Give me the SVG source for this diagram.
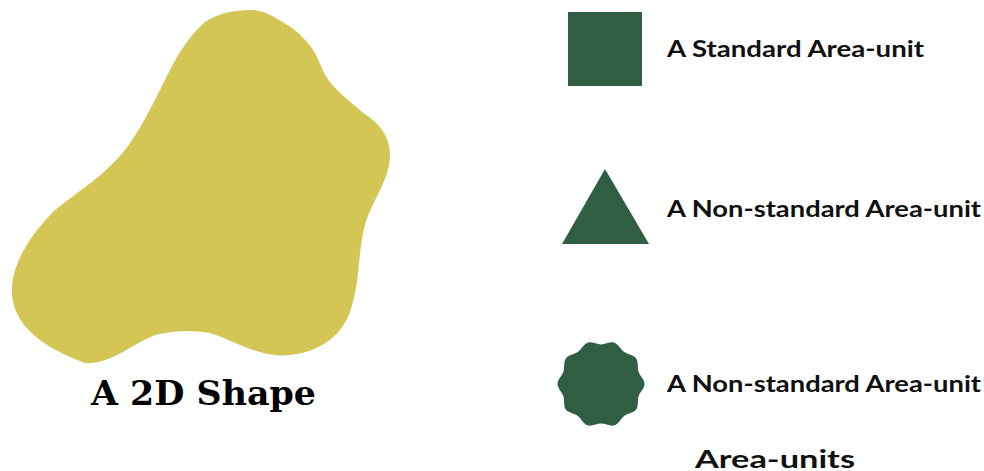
<svg xmlns="http://www.w3.org/2000/svg" width="984" height="471" viewBox="0 0 984 471">
<style>
.unit{fill:#2F5E43}
.lbl{font-family:Lato,"Open Sans",sans-serif;font-weight:bold;font-size:22px;fill:#111}
.title{font-family:"DejaVu Serif","Liberation Serif",serif;font-weight:bold;font-size:33px;fill:#000}
</style>
<rect width="984" height="471" fill="#fff"/>
<g id="shape2d">
<path fill="#D3C654" d="M 250 10 C 230 10 215 15 205 22 C 185 40 175 60 165 80 C 150 110 140 130 125 150 C 105 175 80 190 55 210 C 25 240 10 270 12 295 C 15 330 50 350 85 363 C 110 365 130 345 155 335 C 175 330 195 330 210 333 C 240 343 260 358 290 355 C 320 352 345 335 352 305 C 360 280 358 250 365 225 C 372 200 390 180 390 155 C 390 135 378 122 362 112 C 355 105 340 95 330 82 C 320 70 320 55 305 40 C 295 28 280 20 268 14 C 262 11 256 10 250 10 Z"/>
<text class="title" x="91" y="405" textLength="225" lengthAdjust="spacingAndGlyphs">A 2D Shape</text>
</g>
<g id="standard">
<rect class="unit" x="568" y="12" width="74" height="74"/>
<text class="lbl" x="667" y="57" textLength="257" lengthAdjust="spacingAndGlyphs">A Standard Area-unit</text>
</g>
<g id="nonstandard-triangle">
<polygon class="unit" points="605,169 562,244 649,244"/>
<text class="lbl" x="667" y="217" textLength="314" lengthAdjust="spacingAndGlyphs">A Non-standard Area-unit</text>
</g>
<g id="nonstandard-wavy">
<path class="unit" d="M 644.5 384 C 644.5 388.2 639.87 392.22 638.57 396.21 C 637.27 400.20 638.66 406.17 636.19 409.57 C 633.72 412.97 627.62 413.49 624.22 415.96 C 620.82 418.43 618.43 424.07 614.44 425.37 C 610.45 426.67 605.2 423.5 601 423.5 C 596.8 423.5 591.55 426.67 587.56 425.37 C 583.57 424.07 581.18 418.43 577.78 415.96 C 574.38 413.49 568.28 412.97 565.81 409.57 C 563.34 406.17 564.73 400.20 563.43 396.21 C 562.13 392.22 557.5 388.2 557.5 384 C 557.5 379.8 562.13 375.78 563.43 371.79 C 564.73 367.80 563.34 361.83 565.81 358.43 C 568.28 355.03 574.38 354.51 577.78 352.04 C 581.18 349.57 583.57 343.93 587.56 342.63 C 591.55 341.33 596.8 344.5 601 344.5 C 605.2 344.5 610.45 341.33 614.44 342.63 C 618.43 343.93 620.82 349.57 624.22 352.04 C 627.62 354.51 633.72 355.03 636.19 358.43 C 638.66 361.83 637.27 367.80 638.57 371.79 C 639.87 375.78 644.5 379.8 644.5 384 Z"/>
<text class="lbl" x="667" y="392" textLength="314" lengthAdjust="spacingAndGlyphs">A Non-standard Area-unit</text>
</g>
<g id="legend-title">
<text class="lbl" x="695" y="468" style="font-size:25px" textLength="160" lengthAdjust="spacingAndGlyphs">Area-units</text>
</g>
<g id="connectors"></g>
</svg>
